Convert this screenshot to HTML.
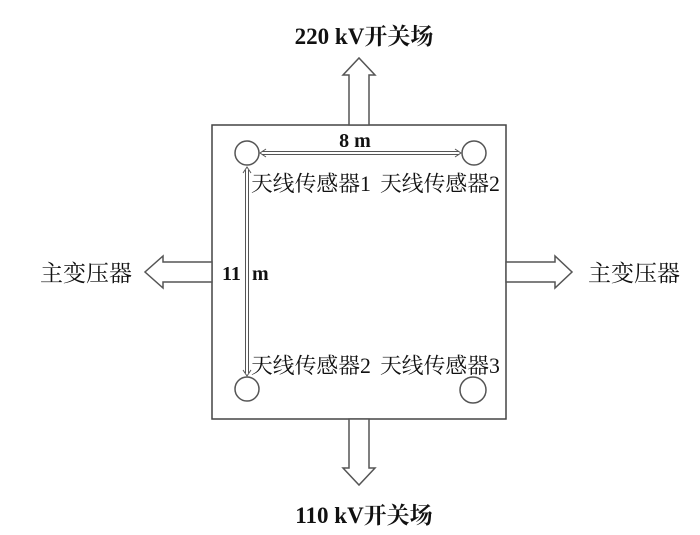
<!DOCTYPE html>
<html><head><meta charset="utf-8"><style>body{margin:0;background:#fff}</style></head><body>
<svg width="700" height="535" viewBox="0 0 700 535" xmlns="http://www.w3.org/2000/svg" style="display:block">
<defs><style>
text{font-family:"Liberation Serif","Noto Serif CJK SC",serif;fill:#111}
.b{font-weight:bold}
</style></defs>
<rect x="0" y="0" width="700" height="535" fill="#fff"/>
<rect x="212" y="125" width="294" height="294" fill="#fff" stroke="#444" stroke-width="1.5"/>
<g fill="#fff" stroke="#555" stroke-width="1.5">
<polygon points="349,125 349,75 343,75 359,58 375,75 369,75 369,125"/>
<polygon points="349,419 349,468 343,468 359,485 375,468 369,468 369,419"/>
<polygon points="212,262 163,262 163,256 145,272 163,288 163,282 212,282"/>
<polygon points="506,262 555,262 555,256 572,272 555,288 555,282 506,282"/>
<circle cx="247" cy="153" r="12"/>
<circle cx="474" cy="153" r="12"/>
<circle cx="247" cy="389" r="12"/>
<circle cx="473" cy="390" r="13"/>
</g>
<g stroke="#555" stroke-width="1" fill="none">
<line x1="262" y1="151.5" x2="459" y2="151.5"/>
<line x1="262" y1="154.5" x2="459" y2="154.5"/>
<polyline points="266,149 260,153 266,157"/>
<polyline points="455,149 461,153 455,157"/>
<line x1="245.5" y1="170" x2="245.5" y2="373"/>
<line x1="248.5" y1="170" x2="248.5" y2="373"/>
<polyline points="243,173 247,167 251,173"/>
<polyline points="243,370 247,376 251,370"/>
</g>
<text x="364" y="44" font-size="23" text-anchor="middle" class="b">220 kV开关场</text>
<text x="364" y="523" font-size="23" text-anchor="middle" class="b">110 kV开关场</text>
<text x="355" y="147" font-size="20" text-anchor="middle" class="b">8 m</text>
<text x="222" y="280" font-size="20" class="b">11</text>
<text x="252" y="280" font-size="20" class="b">m</text>
<text x="40" y="281" font-size="23">主变压器</text>
<text x="588" y="281" font-size="23">主变压器</text>
<text x="251" y="191" font-size="21.8">天线传感器1</text>
<text x="380" y="191" font-size="21.8">天线传感器2</text>
<text x="251" y="373" font-size="21.8">天线传感器2</text>
<text x="380" y="373" font-size="21.8">天线传感器3</text>
</svg>
</body></html>
